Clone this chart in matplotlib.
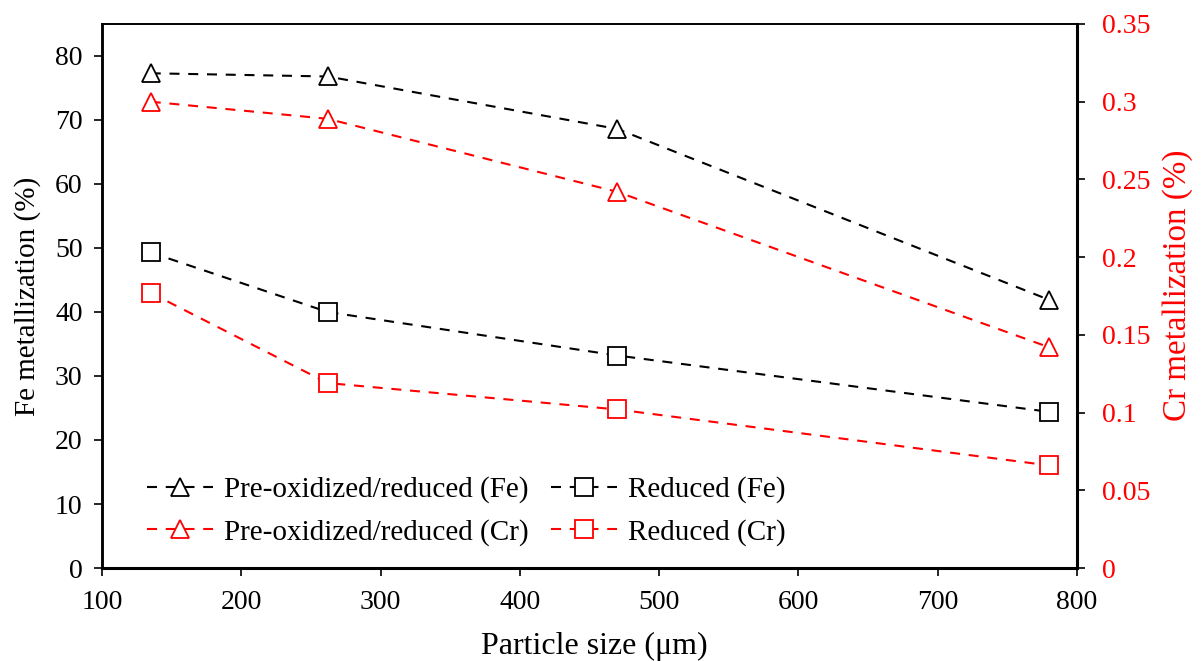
import matplotlib
matplotlib.use("Agg")
import matplotlib.pyplot as plt

plt.rcParams['font.family'] = ['Liberation Serif', 'DejaVu Serif']
plt.rcParams['mathtext.fontset'] = 'stix'

particle_size = [135, 262, 470, 780]
fe_preox = [77.3, 76.8, 68.6, 41.9]
fe_reduced = [49.3, 40.0, 33.2, 24.4]
cr_preox = [0.300, 0.289, 0.242, 0.142]
cr_reduced = [0.177, 0.119, 0.102, 0.066]

labels = ['Pre-oxidized/reduced (Fe)', 'Reduced (Fe)',
          'Pre-oxidized/reduced (Cr)', 'Reduced (Cr)']

fig = plt.figure(figsize=(12.01, 6.61), dpi=100)
ax = fig.add_axes([102/1201, 1-568/661, (1077-102)/1201, (568-24)/661])
ax2 = ax.twinx()

ms = 12.5
lw = 1.5
dash = (4.8, 4.2)
common = dict(ms=ms, mfc='white', mew=1.3, lw=lw, dashes=dash)
l1, = ax.plot(particle_size, fe_preox, color='black', marker='^', mec='black',
              label=labels[0], **common)
l2, = ax.plot(particle_size, fe_reduced, color='black', marker='s', mec='black',
              label=labels[1], **common)
l3, = ax2.plot(particle_size, cr_preox, color='red', marker='^', mec='red',
               label=labels[2], **common)
l4, = ax2.plot(particle_size, cr_reduced, color='red', marker='s', mec='red',
               label=labels[3], **common)

ax.set_xlim(100, 800)
# left axis: 0..80 spans 568->56 ; right 0..0.35 spans 568->24
ax.set_ylim(0, 80 * (568 - 24) / (568 - 56))
ax2.set_ylim(0, 0.35)

ax.set_xticks(range(100, 801, 100))
ax.set_yticks(range(0, 81, 10))
ax2.set_yticks([0, 0.05, 0.1, 0.15, 0.2, 0.25, 0.3, 0.35])
ax2.set_yticklabels(['0', '0.05', '0.1', '0.15', '0.2', '0.25', '0.3', '0.35'])

fs = 20
ax.tick_params(axis='both', direction='out', labelsize=fs, length=6, width=1.2, pad=8)
ax.tick_params(axis='x', pad=10)
ax2.tick_params(axis='y', direction='out', labelsize=fs, length=6, width=1.2,
                colors='black', labelcolor='red', pad=12)

for sp in ax.spines.values():
    sp.set_linewidth(1.2)
for sp in ax2.spines.values():
    sp.set_linewidth(1.2)
ax.spines['bottom'].set_linewidth(2.2)
ax2.spines['right'].set_linewidth(2.2)
ax2.spines['left'].set_linewidth(1.8)
ax.spines['left'].set_linewidth(1.8)

ax.set_xlabel('Particle size (μm)', fontsize=23)
ax.xaxis.set_label_coords((594.5 - 102) / 975, -(632 - 568) / 544)
ax.set_ylabel('Fe metallization (%)', fontsize=21, labelpad=10)
ax2.set_ylabel('Cr metallization (%)', fontsize=23.8, color='red')
ax2.yaxis.set_label_coords((1162 - 102) / 975, (568 - 285) / 544)

leg = ax.legend([l1, l3, l2, l4], [labels[0], labels[2], labels[1], labels[3]],
                ncol=2, loc='lower left', bbox_to_anchor=(0.0196, -0.0074),
                frameon=False, fontsize=21, handlelength=2.26, columnspacing=0.75,
                handletextpad=0.38, labelspacing=0.54)

fig.savefig('out.png', dpi=100)
